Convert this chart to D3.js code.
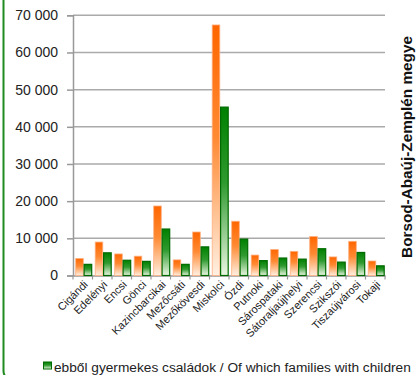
<!DOCTYPE html>
<html><head><meta charset="utf-8">
<script src="https://cdn.jsdelivr.net/npm/d3@7"></script>
<style>body{margin:0;background:#fff}svg{display:block}</style>
</head><body>
<script>
const categories = ["Cigándi","Edelényi","Encsi","Gönci","Kazincbarcikai","Mezőcsáti","Mezőkövesdi","Miskolci","Ózdi","Putnoki","Sárospataki","Sátoraljaújhelyi","Szerencsi","Szikszói","Tiszaújvárosi","Tokaji"];
const allFamilies = [4600,9000,5800,5200,18700,4200,11700,67400,14600,5500,7000,6500,10500,5000,9200,3900];
const withChildren = [3000,6100,4100,3800,12500,3000,7700,45300,9800,4000,4700,4400,7200,3600,6200,2600];
const yTicks = [0,10000,20000,30000,40000,50000,60000,70000];
const legendLabel = "ebből gyermekes családok / Of which families with children";
const sideTitle = "Borsod-Abaúj-Zemplén megye";

const W = 420, H = 375;
const svg = d3.select("body").append("svg").attr("width", W).attr("height", H);
const defs = svg.append("defs");
const go = defs.append("linearGradient").attr("id","gOr").attr("x1",0).attr("y1",0).attr("x2",0).attr("y2",1);
go.append("stop").attr("offset","0%").attr("stop-color","#ff6600");
go.append("stop").attr("offset","45%").attr("stop-color","#ff8a33");
go.append("stop").attr("offset","100%").attr("stop-color","#fff0e2");
const gg = defs.append("linearGradient").attr("id","gGr").attr("x1",0).attr("y1",0).attr("x2",0).attr("y2",1);
gg.append("stop").attr("offset","0%").attr("stop-color","#008000");
gg.append("stop").attr("offset","45%").attr("stop-color","#2f9a2f");
gg.append("stop").attr("offset","100%").attr("stop-color","#eaf6e2");

// frame
svg.append("rect").attr("x",3.5).attr("y",-30).attr("width",600).attr("height",410).attr("rx",9)
  .attr("fill","none").attr("stroke","#1f8a1f").attr("stroke-width",2);

const x0 = 73, x1 = 385, yTop = 15.3, yBot = 275.5;
const x = d3.scaleBand().domain(categories).range([x0, x1]).paddingInner(0).paddingOuter(0);
const y = d3.scaleLinear().domain([0, 70000]).range([yBot, yTop]);
const fmt = v => d3.format(",")(v).replace(/,/g, " ");

// grid
svg.append("g").selectAll("line").data(yTicks.filter(d=>d>0)).join("line")
  .attr("x1", x0).attr("x2", x1).attr("y1", d=>y(d)).attr("y2", d=>y(d))
  .attr("stroke","#aaaaaa").attr("stroke-width",1.5);

// y axis
const ya = svg.append("g").attr("transform",`translate(${x0},0)`)
  .call(d3.axisLeft(y).tickValues(yTicks).tickFormat(fmt).tickSize(6).tickPadding(9));
ya.select(".domain").attr("stroke","#999").attr("stroke-width",1.5);
ya.selectAll(".tick line").attr("stroke","#999").attr("stroke-width",1.5);
ya.selectAll("text").attr("font-family","Liberation Sans, Arial, sans-serif").attr("font-size",14).attr("fill","#222");

// x axis
const xa = svg.append("g").attr("transform",`translate(0,${yBot})`)
  .call(d3.axisBottom(x).tickSize(0).tickFormat(""));
xa.select(".domain").attr("stroke","#999").attr("stroke-width",1.5);
const tickPos = categories.map(c => x(c)).concat([x1]);
svg.append("g").selectAll("line").data(tickPos).join("line")
  .attr("x1",d=>d).attr("x2",d=>d).attr("y1",yBot).attr("y2",yBot+4)
  .attr("stroke","#999").attr("stroke-width",1.2);

// labels
svg.append("g").selectAll("text").data(categories).join("text")
  .attr("transform", d => `translate(${x(d)+x.bandwidth()/2+3},${yBot+7}) rotate(-45)`)
  .attr("text-anchor","end").attr("dy","0.35em")
  .attr("font-family","Liberation Sans, Arial, sans-serif").attr("font-size",11).attr("fill","#222")
  .text(d=>d);

// bars
const bw = 7.6;
svg.append("g").selectAll("rect").data(categories).join("rect")
  .attr("x", d => x(d)+2.7).attr("width", bw)
  .attr("y", (d,i) => y(allFamilies[i])).attr("height", (d,i) => yBot - y(allFamilies[i]))
  .attr("fill","url(#gOr)").attr("stroke","#ffb080").attr("stroke-width",0.8);
svg.append("g").selectAll("rect").data(categories).join("rect")
  .attr("x", d => x(d)+2.7+bw+0.8).attr("width", bw)
  .attr("y", (d,i) => y(withChildren[i])).attr("height", (d,i) => yBot - y(withChildren[i]))
  .attr("fill","url(#gGr)").attr("stroke","#006a00").attr("stroke-width",1.2);

// side title
svg.append("text").attr("transform","translate(412,147) rotate(-90)")
  .attr("text-anchor","middle").attr("font-family","Liberation Sans, Arial, sans-serif")
  .attr("font-weight","bold").attr("font-size",15.3).attr("fill","#111").text(sideTitle);

// legend
svg.append("rect").attr("x",43.5).attr("y",362).attr("width",8).attr("height",7)
  .attr("fill","url(#gGr)").attr("stroke","#006a00").attr("stroke-width",1);
svg.append("text").attr("x",54).attr("y",371.5).attr("font-family","Liberation Sans, Arial, sans-serif")
  .attr("font-size",13.7).attr("fill","#222").text(legendLabel);
</script>
</body></html>
